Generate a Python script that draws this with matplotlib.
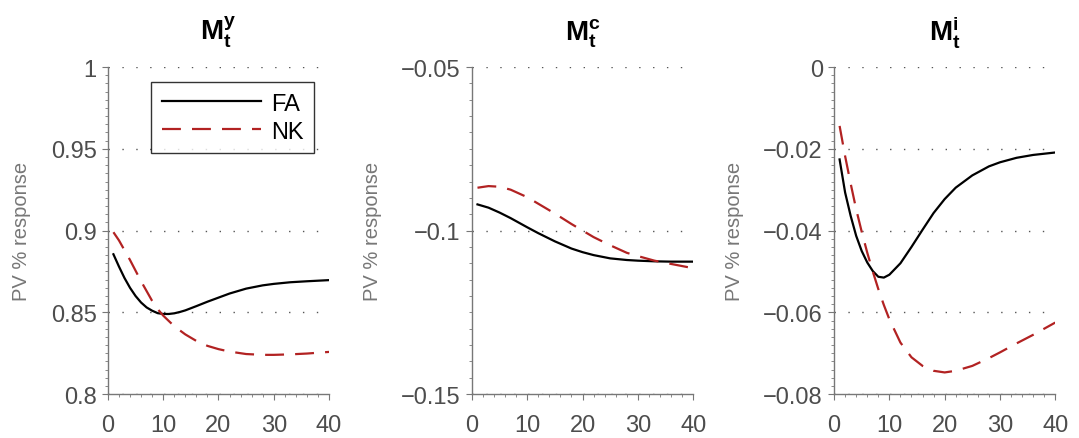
import matplotlib.pyplot as plt
from matplotlib.ticker import MultipleLocator, FuncFormatter

plt.rcParams['font.family'] = ['Liberation Sans', 'DejaVu Sans']
plt.rcParams['mathtext.fontset'] = 'custom'
plt.rcParams['mathtext.rm'] = 'Liberation Sans'
plt.rcParams['mathtext.bf'] = 'Liberation Sans:bold'
plt.rcParams['axes.unicode_minus'] = True

# --- data -----------------------------------------------------------------
t_y = [1, 2, 3, 4, 5, 6, 7, 8, 9, 10, 11, 12, 13, 14, 16, 18, 20, 22, 25, 28, 30, 33, 36, 40]
fa_y = [0.8855, 0.878, 0.871, 0.865, 0.860, 0.856, 0.853, 0.851, 0.8495, 0.849, 0.849, 0.8494,
        0.8502, 0.8512, 0.8538, 0.8565, 0.859, 0.8615, 0.8645, 0.8665, 0.8674, 0.8684, 0.869, 0.8697]
t_y_nk = [1, 2, 3, 4, 5, 6, 7, 8, 9, 10, 12, 14, 16, 18, 20, 22, 25, 28, 30, 33, 36, 40]
nk_y = [0.899, 0.894, 0.888, 0.882, 0.8755, 0.869, 0.863, 0.857, 0.852, 0.848, 0.8415, 0.8365,
        0.8325, 0.8295, 0.8275, 0.826, 0.8245, 0.824, 0.824, 0.8243, 0.8248, 0.8258]

t_c = [1, 3, 5, 7, 10, 12, 15, 18, 20, 22, 25, 28, 30, 33, 36, 40]
fa_c = [-0.0920, -0.0930, -0.0945, -0.0962, -0.0990, -0.1008, -0.1033, -0.1055, -0.1066,
        -0.1075, -0.1085, -0.1090, -0.1092, -0.1094, -0.1095, -0.1095]
nk_c = [-0.0869, -0.0864, -0.0866, -0.0875, -0.0898, -0.0918, -0.0948, -0.0980, -0.1000,
        -0.1020, -0.1045, -0.1068, -0.1078, -0.1092, -0.1102, -0.1115]

t_i = [1, 2, 3, 4, 5, 6, 7, 8, 9, 10, 12, 14, 16, 18, 20, 22, 25, 28, 30, 33, 36, 40]
fa_i = [-0.0226, -0.0307, -0.0364, -0.0413, -0.0450, -0.0478, -0.0499, -0.0513, -0.0515,
        -0.0508, -0.0480, -0.0440, -0.0398, -0.0357, -0.0323, -0.0295, -0.0265, -0.0243,
        -0.0233, -0.0222, -0.0215, -0.0209]
nk_i = [-0.0144, -0.0218, -0.0285, -0.0348, -0.0403, -0.0454, -0.0500, -0.0543, -0.0582,
        -0.0617, -0.0674, -0.0710, -0.0731, -0.0743, -0.0747, -0.0743, -0.0731, -0.0712,
        -0.0698, -0.0676, -0.0655, -0.0625]

titles = [r'$\mathbf{M_t^y}$', r'$\mathbf{M_t^c}$', r'$\mathbf{M_t^i}$']
ylims = [(0.8, 1.0), (-0.15, -0.05), (-0.08, 0.0)]
yticks = [[0.8, 0.85, 0.9, 0.95, 1.0], [-0.15, -0.1, -0.05], [-0.08, -0.06, -0.04, -0.02, 0]]
yminor = [0.005, 0.005, 0.002]
lefts = [0.100, 0.4374, 0.773]

series = [(t_y, fa_y, t_y_nk, nk_y), (t_c, fa_c, t_c, nk_c), (t_i, fa_i, t_i, nk_i)]

red = '#b22222'
gray = '#4d4d4d'
light = '#777777'

def fmt(v, pos):
    s = ('%.3f' % v).rstrip('0').rstrip('.')
    if s in ('-0', '0'):
        return '0'
    return s.replace('-', '\u2212')

fig = plt.figure(figsize=(10.79, 4.39), dpi=100)
for k in range(3):
    ax = fig.add_axes([lefts[k], 0.100, 0.205, 0.745])
    tf, yf, tn, yn = series[k]
    ax.plot(tf, yf, color='black', lw=1.6, label='FA')
    ax.plot(tn, yn, color=red, lw=1.6, ls=(0, (8.5, 5)), label='NK')
    ax.set_xlim(0, 40)
    ax.set_ylim(*ylims[k])
    ax.set_yticks(yticks[k])
    ax.yaxis.set_major_formatter(FuncFormatter(fmt))
    ax.yaxis.set_minor_locator(MultipleLocator(yminor[k]))
    ax.set_xticks([0, 10, 20, 30, 40])
    ax.xaxis.set_minor_locator(MultipleLocator(2))
    for s in ['top', 'right']:
        ax.spines[s].set_visible(False)
    for s in ['left', 'bottom']:
        ax.spines[s].set_color(light)
        ax.spines[s].set_linewidth(1.0)
    ax.tick_params(which='major', direction='out', length=4, color=light,
                   labelsize=17, labelcolor=gray)
    ax.tick_params(which='minor', direction='out', length=2, color=light)
    ax.tick_params(axis='y', which='major', pad=4)
    ax.tick_params(axis='x', which='major', pad=10)
    ax.yaxis.grid(True, which='major', color='#555555', ls=(0, (1, 9)), lw=1.0)
    ax.set_ylabel('PV % response', fontsize=14.5, color=light, labelpad=14)
    ax.set_title(titles[k], fontsize=20, pad=20)
    if k == 0:
        leg = ax.legend(loc='upper right', bbox_to_anchor=(0.932, 0.954), fontsize=17,
                        frameon=True, fancybox=False, handlelength=4.2,
                        borderpad=0.45, labelspacing=0.25, handletextpad=0.42,
                        borderaxespad=0)
        leg.get_frame().set_edgecolor('black')
        leg.get_frame().set_linewidth(1.0)

fig.savefig('out.png', dpi=100)
